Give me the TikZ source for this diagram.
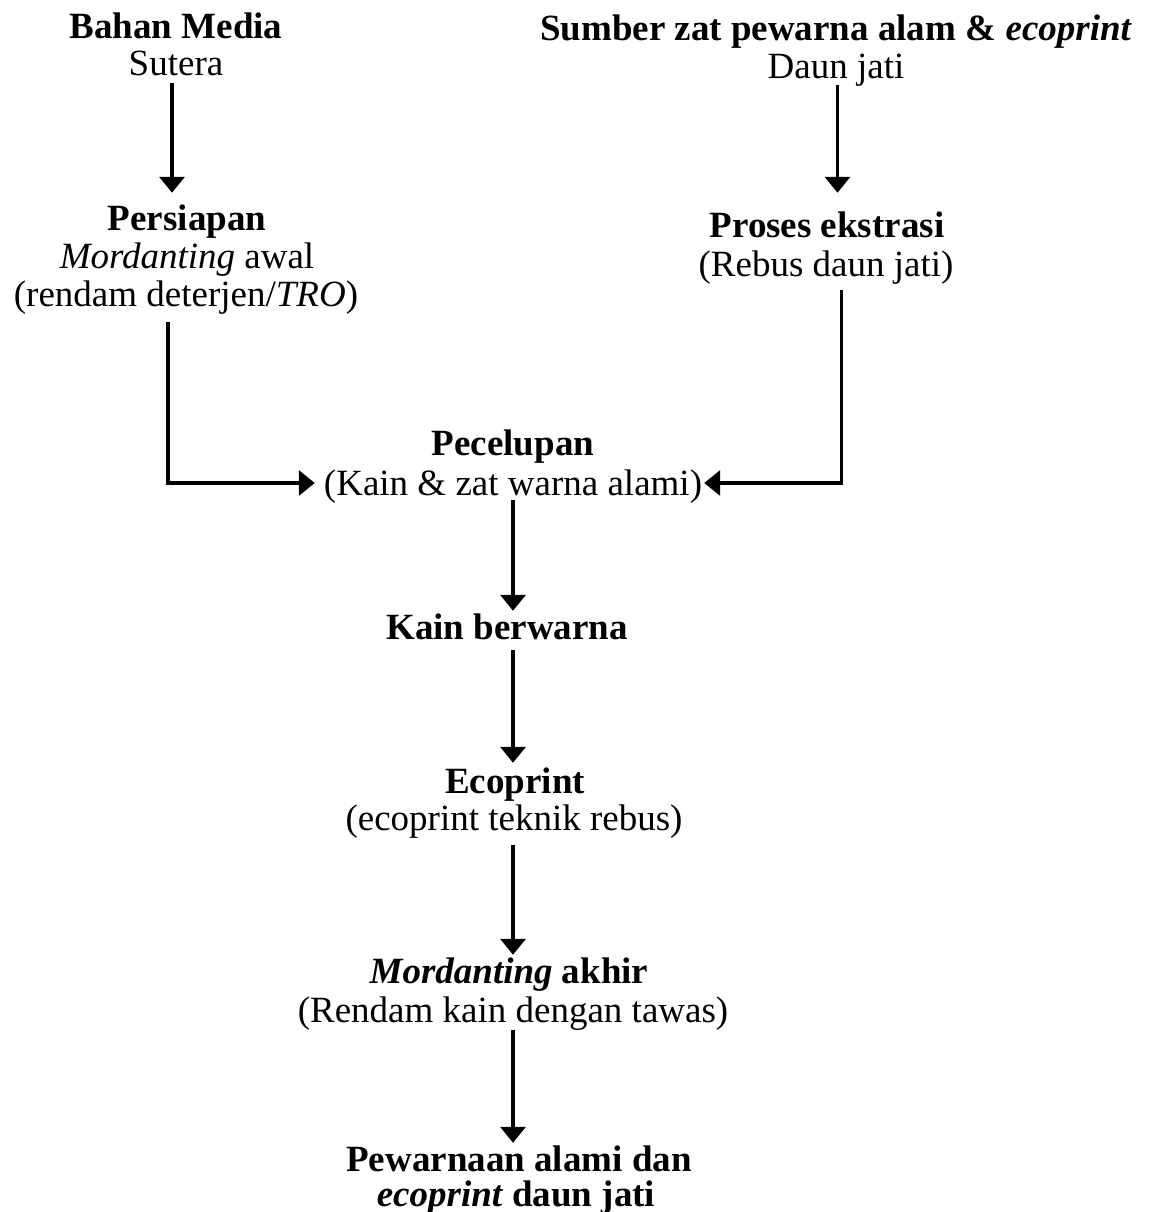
\documentclass[tikz,border=0pt]{standalone}
\usepackage{fontspec}
\setmainfont{Liberation Serif}
\usetikzlibrary{arrows.meta,calc}
\begin{document}
\begin{tikzpicture}[x=1pt,y=-1pt,
  lbl/.style={anchor=base,inner sep=0pt,text height=26pt,text depth=8pt,font=\fontsize{37}{38}\selectfont},
  arr/.style={line width=3.3pt,draw=black,-{Triangle[width=25pt,length=16pt]}}]
\useasboundingbox (0,0) rectangle (1148,1212);
% left column
\node[lbl] (bahan) at (176,39) {\textbf{Bahan Media}};
\node[lbl] (sutera) at (176,76) {Sutera};
\node[lbl] (persiapan) at (187,230) {\textbf{Persiapan}};
\node[lbl] (mordawal) at (187,268) {\textit{Mordanting} awal};
\node[lbl] (rendam) at (186,306) {(rendam deterjen/\textit{TRO})};
% right column
\node[lbl] (sumber) at (836,41) {\textbf{Sumber zat pewarna alam \& \textit{ecoprint}}};
\node[lbl] (daun) at (836,79) {Daun jati};
\node[lbl] (proses) at (827,237) {\textbf{Proses ekstrasi}};
\node[lbl] (rebus) at (826,276) {(Rebus daun jati)};
% centre column
\node[lbl] (pecelupan) at (513,455) {\textbf{Pecelupan}};
\node[lbl] (kainzat) at (513,495) {(Kain \& zat warna alami)};
\node[lbl] (kain) at (507,639) {\textbf{Kain berwarna}};
\node[lbl] (eco) at (515,793) {\textbf{Ecoprint}};
\node[lbl] (ecotek) at (514,830) {(ecoprint teknik rebus)};
\node[lbl] (mordakhir) at (509,983) {\textbf{\textit{Mordanting} akhir}};
\node[lbl] (rendamkain) at (513,1022) {(Rendam kain dengan tawas)};
\node[lbl] (pew) at (519,1171) {\textbf{Pewarnaan alami dan}};
\node[lbl] (ecodaun) at (516,1206) {\textbf{\textit{ecoprint} daun jati}};
% connectors
\draw[arr] ($(sutera.south)+(-4,-1)$) -- ($(sutera.south |- persiapan.north)+(-4,-11)$);
\draw[arr] ($(daun.south)+(1.5,-2)$) -- ($(daun.south |- proses.north)+(1.5,-18)$);
\draw[arr] ($(rendam.south)+(-18,8)$) |- ($(kainzat.west)+(-9,-3)$);
\draw[arr] ($(rebus.south)+(15.5,6)$) |- ($(kainzat.east)+(2,-3)$);
\draw[arr] ($(kainzat.south)+(0,-3)$) -- ($(kainzat.south |- kain.north)+(0,-2)$);
\draw[arr] ($(kain.south -| kainzat.south)+(0,3)$) -- ($(kainzat.south |- eco.north)+(0,-4)$);
\draw[arr] ($(ecotek.south -| kainzat.south)+(0,7)$) -- ($(kainzat.south |- mordakhir.north)+(0,-2)$);
\draw[arr] ($(rendamkain.south -| kainzat.south)$) -- ($(kainzat.south |- pew.north)+(0,-2)$);
\end{tikzpicture}
\end{document}
